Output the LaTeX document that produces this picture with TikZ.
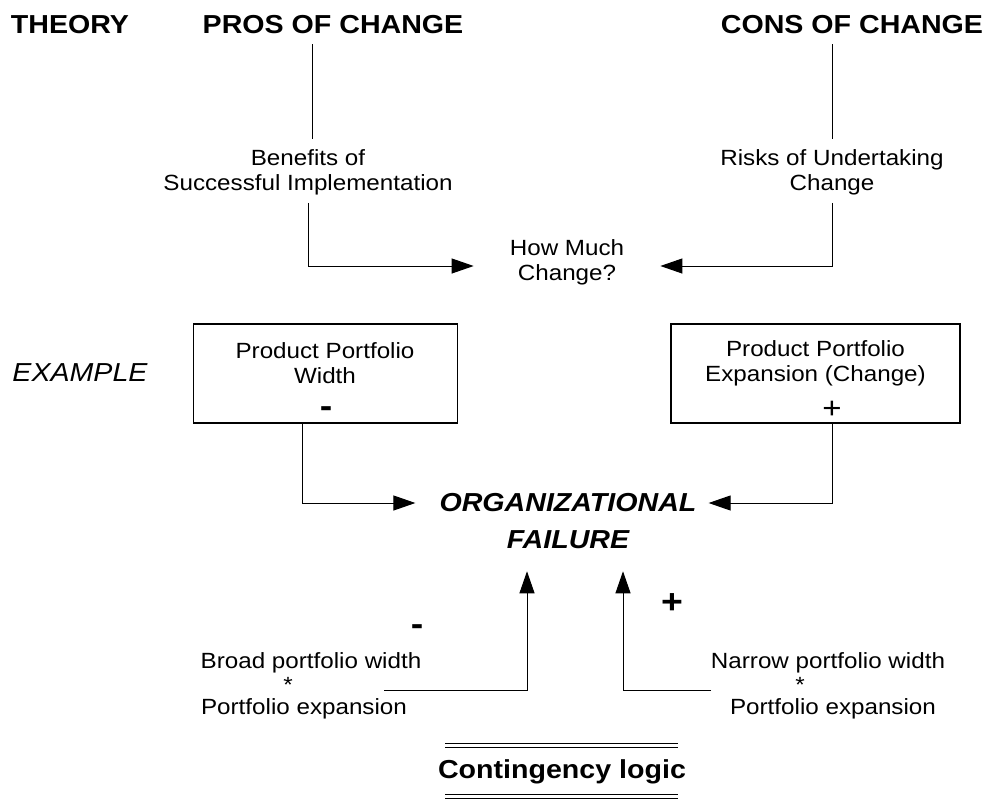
\documentclass[tikz,border=0pt]{standalone}
\usepackage{fontspec}
\setmainfont[FakeStretch=1.1]{Liberation Sans}
\usetikzlibrary{arrows.meta,calc}
\begin{document}
\begin{tikzpicture}[x=1pt,y=-1pt,
  heading/.style={font=\fontsize{26}{30}\selectfont\bfseries, inner sep=0pt},
  txt/.style={font=\fontsize{22}{25}\selectfont, align=center, inner sep=0pt},
  failtxt/.style={font=\fontsize{26}{30}\selectfont\bfseries\itshape, inner sep=0pt},
  sign/.style={font=\fontsize{34}{34}\selectfont\bfseries, inner sep=0pt},
  boxnode/.style={draw, line width=1.1pt, minimum width=264pt, minimum height=99pt, inner sep=0pt},
  conn/.style={line width=1pt},
  rule/.style={line width=0.9pt},
  arr/.style={conn, -{Triangle[length=22pt,width=15pt]}}]
\useasboundingbox (0,0) rectangle (1004,803);

% headings
\node[heading] (theory) at (70,25) {THEORY};
\node[heading] (pros) at (333,25) {PROS OF CHANGE};
\node[heading] (cons) at (852,25) {CONS OF CHANGE};

% theory level
\node[txt] (ben) at (308,172) {Benefits of\\Successful Implementation};
\node[txt] (risk) at (832,172) {Risks of Undertaking\\Change};
\node[txt, inner xsep=36pt] (how) at (567,262) {How Much\\Change?};

\draw[conn] ($(pros.south -| 312,0)+(0,10)$) -- ($(ben.north -| 312,0)+(0,-10)$);
\draw[conn] ($(cons.south -| risk.north)+(0,10)$) -- ($(risk.north)+(0,-10)$);
\draw[arr] ($(ben.south)+(0,8)$) |- ($(how.west)+(0,4)$);
\draw[arr] ($(risk.south)+(0,8)$) |- ($(how.east)+(0,4)$);

% example level
\node[font=\fontsize{26}{30}\selectfont\itshape, inner sep=0pt] (example) at (80,373) {EXAMPLE};
\node[boxnode] (pw) at (325.5,373.5) {};
\node[boxnode, minimum width=289pt] (pe) at (815.5,373.5) {};
\node[txt] (pwt) at (325,363) {Product Portfolio\\Width};
\node[txt] (pet) at (815.5,363) {Product Portfolio\\Expansion (Change)};
\node[sign] (pwsign) at (326,412) {-};
\node[sign, font=\fontsize{30}{30}\selectfont] (pesign) at (832,410) {+};

\node[failtxt] (org) at (568,503) {ORGANIZATIONAL};
\node[failtxt] (fail) at (568,540) {FAILURE};

\draw[arr] ($(pw.south)+(-23,0)$) |- ($(org.west)+(-24,0)$);
\draw[arr] ($(pe.south)+(16.5,0)$) |- ($(org.east)+(12,0)$);

% contingency level
\node[txt] (bl1) at (311,663) {Broad portfolio width};
\node[txt] (blstar) at (288,685) {*};
\node[txt] (bl2) at (304,709) {Portfolio expansion};
\node[txt] (nr1) at (828,663) {Narrow portfolio width};
\node[txt] (nrstar) at (800,685) {*};
\node[txt] (nr2) at (833,709) {Portfolio expansion};

\node[sign] (minus) at (417,630) {-};
\node[sign] (plus) at (672,604) {+};

\coordinate (lstart) at (384,690);
\coordinate (rstart) at (711,690);
\draw[arr] (lstart) -| ($(fail.south)+(-41,22)$);
\draw[arr] (rstart) -| ($(fail.south)+(55,22)$);

\node[font=\fontsize{26}{30}\selectfont\bfseries, inner sep=0pt] (logic) at (562,772) {Contingency logic};
\draw[rule] (445,743) -- (678,743);
\draw[rule] (445,747) -- (678,747);
\draw[rule] (445,794) -- (678,794);
\draw[rule] (445,798) -- (678,798);
\end{tikzpicture}
\end{document}
